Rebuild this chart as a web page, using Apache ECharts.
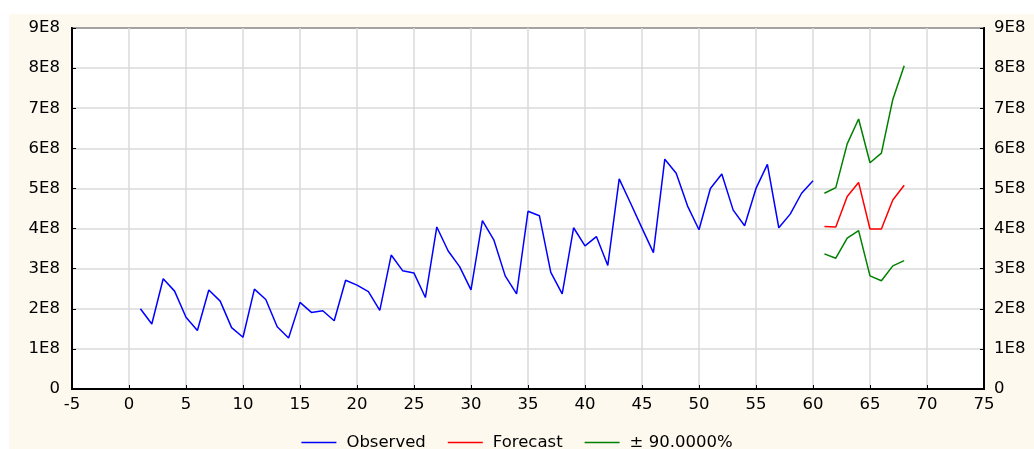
<!DOCTYPE html>
<html>
<head>
<meta charset="utf-8">
<script src="https://cdn.jsdelivr.net/npm/echarts@6/dist/echarts.min.js"></script>
<style>
  html, body { margin: 0; padding: 0; background: #fff; }
  #chart { width: 1034px; height: 449px; }
</style>
</head>
<body>
<div id="chart"></div>
<script>
// observed series, t = 1..60 (units of 1E8)
const observedT = [];
for (let t = 1; t <= 60; t++) observedT.push(t);
const observed = [
  2.00, 1.62, 2.75, 2.44, 1.79, 1.46, 2.47, 2.19, 1.53, 1.29,
  2.49, 2.23, 1.55, 1.27, 2.16, 1.91, 1.95, 1.70, 2.71, 2.59,
  2.43, 1.96, 3.34, 2.95, 2.89, 2.28, 4.04, 3.44, 3.05, 2.47,
  4.20, 3.72, 2.82, 2.37, 4.43, 4.32, 2.91, 2.37, 4.02, 3.57,
  3.80, 3.08, 5.24, 4.63, 4.01, 3.40, 5.73, 5.38, 4.56, 3.97,
  5.00, 5.36, 4.46, 4.07, 5.00, 5.60, 4.02, 4.36, 4.88, 5.19
];

// forecast horizon t = 61..68
const forecastT = [61, 62, 63, 64, 65, 66, 67, 68];
const forecast = [4.05, 4.04, 4.80, 5.15, 3.99, 3.99, 4.71, 5.08];
const upper90 = [4.88, 5.02, 6.11, 6.73, 5.64, 5.88, 7.22, 8.06];
const lower90 = [3.37, 3.26, 3.76, 3.95, 2.82, 2.70, 3.07, 3.20];

const SCALE = 1e8;
const pairs = (xs, ys) => xs.map((x, i) => [x, ys[i] * SCALE]);

const yLabel = v => (v === 0 ? '0' : (v / SCALE) + 'E8');
const font = 'DejaVu Sans, Verdana, sans-serif';

const chart = echarts.init(document.getElementById('chart'), null, { renderer: 'canvas' });

const yAxisBase = {
  type: 'value',
  min: 0,
  max: 9e8,
  interval: 1e8,
  axisLine: { show: true, onZero: false, lineStyle: { color: '#000', width: 2 } },
  axisTick: { show: true, inside: true, length: 4, lineStyle: { color: '#000' } },
  axisLabel: { color: '#000', fontSize: 16.5, fontFamily: font, formatter: yLabel }
};

chart.setOption({
  backgroundColor: '#fff',
  animation: false,
  graphic: [{
    type: 'rect',
    z: -10,
    silent: true,
    shape: { x: 9, y: 14, width: 1034, height: 449 },
    style: { fill: '#fdf9ee' }
  }],
  grid: {
    left: 72, right: 50, top: 28, bottom: 60,
    show: true,
    backgroundColor: '#fff',
    borderColor: '#000',
    borderWidth: 2
  },
  legend: {
    top: 429,
    left: 'center',
    icon: 'rect',
    itemWidth: 35,
    itemHeight: 1.5,
    itemGap: 22,
    textStyle: { color: '#000', fontSize: 16.5, fontFamily: font, padding: [0, 0, 0, 5] },
    data: ['Observed', 'Forecast', '± 90.0000%']
  },
  xAxis: {
    type: 'value',
    min: -5,
    max: 75,
    interval: 5,
    axisLine: { onZero: false, lineStyle: { color: '#000', width: 2 } },
    axisTick: { show: true, inside: true, length: 4, lineStyle: { color: '#000' } },
    axisLabel: { color: '#000', fontSize: 16.5, fontFamily: font, margin: 7 },
    splitLine: { show: true, lineStyle: { color: '#dadada', width: 1.5 } }
  },
  yAxis: [
    Object.assign({}, yAxisBase, {
      position: 'left',
      axisLabel: Object.assign({}, yAxisBase.axisLabel, { margin: 12 }),
      splitLine: { show: true, lineStyle: { color: '#dadada', width: 1.5 } }
    }),
    Object.assign({}, yAxisBase, {
      position: 'right',
      axisLabel: Object.assign({}, yAxisBase.axisLabel, { margin: 10 }),
      splitLine: { show: false }
    })
  ],
  series: [
    {
      name: 'Observed', type: 'line', showSymbol: false, symbol: 'none',
      data: pairs(observedT, observed),
      lineStyle: { color: '#0000ff', width: 1.5 }, itemStyle: { color: '#0000ff' }
    },
    {
      name: 'Forecast', type: 'line', showSymbol: false, symbol: 'none',
      data: pairs(forecastT, forecast),
      lineStyle: { color: '#ff0000', width: 1.5 }, itemStyle: { color: '#ff0000' }
    },
    {
      name: '± 90.0000%', type: 'line', showSymbol: false, symbol: 'none',
      data: pairs(forecastT, upper90),
      lineStyle: { color: '#008000', width: 1.5 }, itemStyle: { color: '#008000' }
    },
    {
      name: '± 90.0000%', type: 'line', showSymbol: false, symbol: 'none',
      data: pairs(forecastT, lower90),
      lineStyle: { color: '#008000', width: 1.5 }, itemStyle: { color: '#008000' }
    }
  ]
});
</script>
</body>
</html>
